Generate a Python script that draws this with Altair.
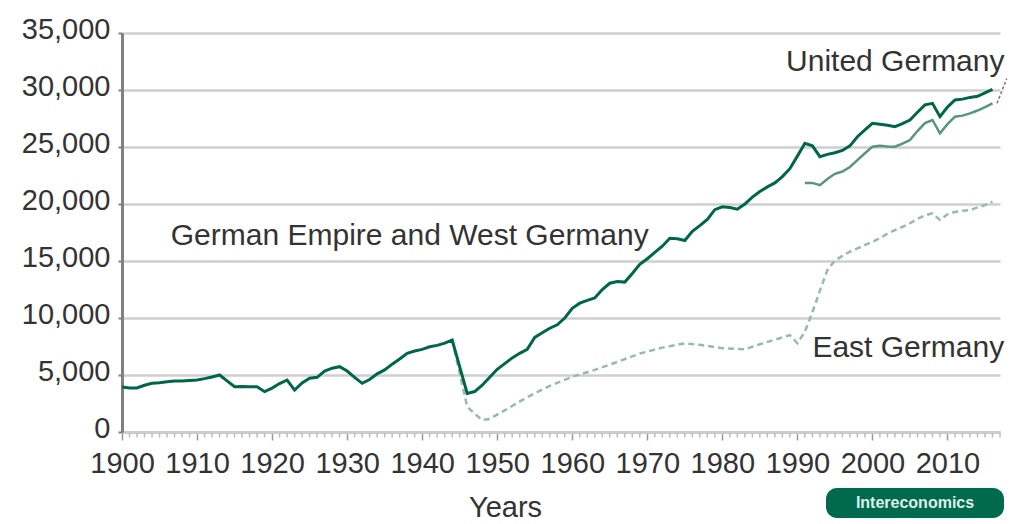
import altair as alt
import pandas as pd

# ---------------- data ----------------
west_years = [1900, 1901, 1902, 1903, 1904, 1905, 1906, 1907, 1908, 1909,
              1910, 1911, 1912, 1913, 1914, 1915, 1916, 1917, 1918, 1919,
              1920, 1921, 1922, 1923, 1924, 1925, 1926, 1927, 1928, 1929,
              1930, 1931, 1932, 1933, 1934, 1935, 1936, 1937, 1938, 1939,
              1940, 1941, 1942, 1943, 1944, 1946, 1947, 1948, 1949,
              1950, 1951, 1952, 1953, 1954, 1955, 1956, 1957, 1958, 1959,
              1960, 1961, 1962, 1963, 1964, 1965, 1966, 1967, 1968, 1969,
              1970, 1971, 1972, 1973, 1974, 1975, 1976, 1977, 1978, 1979,
              1980, 1981, 1982, 1983, 1984, 1985, 1986, 1987, 1988, 1989,
              1990, 1991, 1992, 1993, 1994, 1995, 1996, 1997, 1998, 1999,
              2000, 2001, 2002, 2003, 2004, 2005, 2006, 2007, 2008, 2009,
              2010, 2011, 2012, 2013, 2014, 2015, 2016]
west_values = [3950, 3870, 3860, 4100, 4270, 4320, 4400, 4470, 4480, 4520,
               4560, 4680, 4820, 5000, 4480, 3970, 3990, 3980, 3970, 3540,
               3850, 4250, 4560, 3680, 4300, 4710, 4800, 5350, 5600, 5730,
               5350, 4800, 4270, 4600, 5100, 5450, 5950, 6400, 6900, 7100,
               7250, 7480, 7600, 7800, 8070, 3390, 3550, 4100, 4800,
               5500, 6000, 6500, 6900, 7250, 8300, 8700, 9100, 9400, 10000,
               10850, 11300, 11550, 11750, 12500, 13050, 13200, 13150, 13900, 14700,
               15200, 15750, 16300, 16990, 16950, 16800, 17600, 18100, 18650, 19500,
               19750, 19700, 19550, 20000, 20600, 21100, 21500, 21850, 22400, 23100,
               24200, 25320, 25100, 24150, 24350, 24500, 24700, 25100, 25900, 26500,
               27080, 27000, 26900, 26780, 27050, 27370, 28050, 28700, 28830, 27660,
               28500, 29120, 29200, 29350, 29450, 29750, 30060]

united_years = [1991, 1992, 1993, 1994, 1995, 1996, 1997, 1998, 1999,
                2000, 2001, 2002, 2003, 2004, 2005, 2006, 2007, 2008, 2009,
                2010, 2011, 2012, 2013, 2014, 2015, 2016]
united_values = [21850, 21850, 21650, 22200, 22650, 22850, 23250, 23850, 24450,
                 25030, 25100, 25050, 25030, 25300, 25610, 26400, 27100, 27370, 26200,
                 27000, 27660, 27750, 27950, 28200, 28500, 28830]

east_years = [1944, 1946, 1947, 1948, 1949, 1951, 1954, 1957, 1960, 1963,
              1966, 1969, 1972, 1975, 1977, 1980, 1983, 1985, 1989, 1990,
              1991, 1992, 1993, 1994, 1995, 1996, 1997, 1998, 1999, 2000,
              2001, 2002, 2003, 2004, 2005, 2006, 2007, 2008, 2009, 2010,
              2011, 2012, 2013, 2014, 2015, 2016]
east_values = [8070, 2220, 1600, 1050, 1150, 1900, 3050, 4050, 4850, 5450,
               6150, 6880, 7400, 7780, 7650, 7350, 7250, 7700, 8500, 7780,
               8800, 10500, 12400, 14200, 15050, 15450, 15820, 16100, 16400, 16690,
               17000, 17400, 17700, 18000, 18310, 18700, 19000, 19180, 18600, 19100,
               19300, 19400, 19470, 19700, 19900, 20200]

label_text = ["United Germany", "German Empire and West Germany", "East Germany"]
label_x = [2017.6, 1906.5, 1992.0]
label_y = [32450, 17150, 7400]
label_align = ["right", "left", "left"]

leader_x = [2016.6, 2017.9]
leader_y = [28830, 31000]

y_ticks = [0, 5000, 10000, 15000, 20000, 25000, 30000, 35000]
decade_ticks = list(range(1900, 2011, 10))
minor_years = [y for y in range(1900, 2018) if y % 10 != 0]

FONT = "Liberation Sans"
TXT = "#333333"

west = pd.DataFrame({"year": west_years, "value": west_values})
united = pd.DataFrame({"year": united_years, "value": united_values})
east = pd.DataFrame({"year": east_years, "value": east_values})
leader = pd.DataFrame({"year": leader_x, "value": leader_y})
minor = pd.DataFrame({"year": minor_years, "value": [0] * len(minor_years)})

xscale = alt.Scale(domain=[1900, 2017], nice=False, zero=False)
yscale = alt.Scale(domain=[0, 35000], nice=False)

x_axis = alt.Axis(
    values=decade_ticks, format="d",
    labelOverlap=False, labelFont=FONT, labelFontSize=29, labelColor=TXT,
    labelPadding=9, labelFlush=False,
    tickColor="#9a9a9a", tickWidth=1.5, tickSize=8,
    domainColor="#cccccc", domainWidth=3, grid=False,
    title="Years", titleFont=FONT, titleFontSize=29, titleFontWeight="normal",
    titleColor=TXT, titleX=383, titleY=84, titleBaseline="alphabetic",
    titleAlign="center", titleAnchor="start",
)
y_axis = alt.Axis(
    values=y_ticks, format=",d",
    labelFont=FONT, labelFontSize=29, labelColor=TXT, labelPadding=8,
    labelOffset=-4,
    tickColor="#808080", tickSize=4, tickWidth=2,
    domainColor="#808080", domainWidth=3,
    grid=True, gridColor="#cfcfcf", gridWidth=2.5,
    title=None,
)

X = alt.X("year:Q", scale=xscale, axis=x_axis)
Y = alt.Y("value:Q", scale=yscale, axis=y_axis)

minor_ticks = alt.Chart(minor).mark_tick(
    orient="vertical", size=4, thickness=1.5, color="#a0a0a0", yOffset=3.5
).encode(x=X, y=Y)

east_line = alt.Chart(east).mark_line(
    color="#97bbab", strokeWidth=2.5, strokeDash=[6, 4]
).encode(x=X, y=Y)

united_line = alt.Chart(united).mark_line(
    color="#56967d", strokeWidth=2.5
).encode(x=X, y=Y)

west_line = alt.Chart(west).mark_line(
    color="#00664a", strokeWidth=3
).encode(x=X, y=Y)

leader_line = alt.Chart(leader).mark_line(
    color="#777777", strokeWidth=1.5, strokeDash=[3, 2]
).encode(x=X, y=Y)

text_layers = []
for i in range(len(label_text)):
    df = pd.DataFrame({"text": [label_text[i]], "year": [label_x[i]], "value": [label_y[i]]})
    text_layers.append(
        alt.Chart(df).mark_text(
            font=FONT, fontSize=30, color=TXT, align=label_align[i],
            baseline="middle"
        ).encode(x=X, y=Y, text="text:N")
    )

logo_df = pd.DataFrame({"t": ["Intereconomics"]})
logo_box = alt.Chart(logo_df).mark_rect(
    color="#006a4e", cornerRadius=11
).encode(x=alt.value(704), x2=alt.value(882), y=alt.value(455), y2=alt.value(485))

logo_text = alt.Chart(logo_df).mark_text(
    font=FONT, fontSize=16, fontWeight="bold", color="#dfeee8",
    align="center", baseline="middle"
).encode(x=alt.value(793), y=alt.value(470), text="t:N")

chart = alt.layer(
    minor_ticks, east_line, united_line, west_line, leader_line, *text_layers,
    logo_box, logo_text
).properties(
    width=878, height=399,
    autosize="none",
    padding={"left": 114, "top": 25, "right": 20, "bottom": 96},
).configure_view(stroke=None)

chart.save("out.html", embed_options={"renderer": "svg", "actions": False})
